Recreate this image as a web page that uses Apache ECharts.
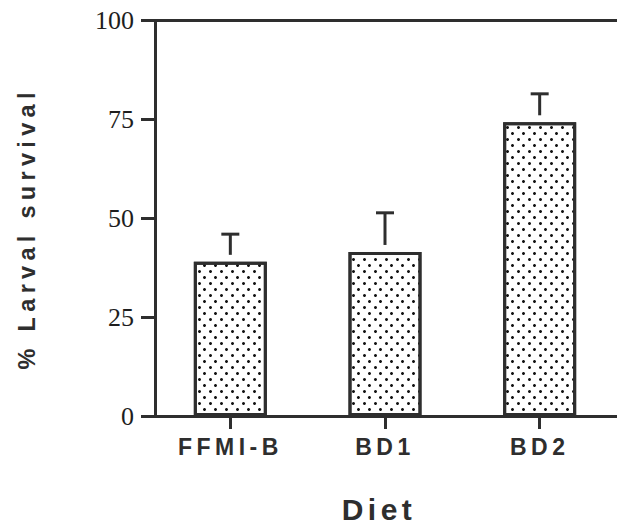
<!DOCTYPE html>
<html>
<head>
<meta charset="utf-8">
<script src="https://cdn.jsdelivr.net/npm/echarts@6/dist/echarts.min.js"></script>
<style>
  html, body { margin: 0; padding: 0; background: #fff; }
  #chart { width: 617px; height: 524px; }
  #chart svg text[style*="bold"] { letter-spacing: 4.5px; }
  #chart svg text[style*="23.5px"] { letter-spacing: 5.3px; }
</style>
</head>
<body>
<div id="chart"></div>
<script>
// ---- data ----
const categories = ['FFMI-B', 'BD1', 'BD2'];
const meanSurvival = [39.0, 41.5, 74.3];      // % larval survival (bar height)
const errorUpper = [46.0, 51.4, 81.5];        // top of error bar
const yTicks = [0, 25, 50, 75, 100];
const xTitle = 'Diet';
const yTitle = '% Larval survival';

const ink = '#2e2e2e';
const chart = echarts.init(document.getElementById('chart'), null, { renderer: 'svg' });

const errData = categories.map((c, i) => [i, meanSurvival[i], errorUpper[i]]);

chart.setOption({
  backgroundColor: '#ffffff',
  animation: false,
  title: {
    text: xTitle,
    left: 374,
    top: 489,
    textAlign: 'center',
    textStyle: { fontFamily: 'Liberation Sans', fontWeight: 'bold', fontSize: 30, color: ink }
  },
  grid: { left: 153, right: -8.5, top: 20.7, bottom: 108, containLabel: false },
  xAxis: [{
    type: 'category',
    data: categories,
    position: 'bottom',
    axisLine: { show: true, lineStyle: { color: ink, width: 3 } },
    axisTick: { show: true, alignWithLabel: true, length: 13, lineStyle: { color: ink, width: 3 } },
    axisLabel: { margin: 19, fontFamily: 'Liberation Sans', fontWeight: 'bold', fontSize: 23, color: ink },
    splitLine: { show: false }
  }, {
    type: 'category',
    data: categories,
    position: 'top',
    axisLine: { show: true, lineStyle: { color: ink, width: 3 } },
    axisTick: { show: false },
    axisLabel: { show: false },
    splitLine: { show: false }
  }],
  yAxis: {
    type: 'value',
    min: yTicks[0],
    max: yTicks[yTicks.length - 1],
    interval: yTicks[1] - yTicks[0],
    offset: -2,
    name: yTitle,
    nameLocation: 'middle',
    nameRotate: 90,
    nameGap: 116,
    nameTextStyle: { fontFamily: 'Liberation Sans', fontWeight: 'bold', fontSize: 23.5, color: ink, padding: [0, 20, 0, 0] },
    axisLine: { show: true, lineStyle: { color: ink, width: 3 } },
    axisTick: { show: true, length: 14, lineStyle: { color: ink, width: 3 } },
    axisLabel: { margin: 21, fontFamily: 'Liberation Serif', fontSize: 26, color: '#1e1e1e' },
    splitLine: { show: false }
  },
  series: [{
    type: 'bar',
    data: meanSurvival,
    barWidth: 73,
    itemStyle: {
      color: '#ffffff',
      borderColor: ink,
      borderWidth: 3,
      decal: {
        symbol: 'circle',
        symbolSize: 1,
        color: '#111111',
        dashArrayX: [[2.5, 7.5], [0, 5, 2.5, 2.5]],
        dashArrayY: [2.5, 3],
        rotation: 0
      }
    },
    z: 2
  }, {
    type: 'custom',
    data: errData,
    z: 3,
    renderItem: function (params, api) {
      const i = api.value(0);
      const base = api.coord([i, api.value(1)]);
      const top = api.coord([i, api.value(2)]);
      const gap = 7, half = 9;
      return {
        type: 'group',
        children: [
          { type: 'line', shape: { x1: top[0], y1: base[1] - gap, x2: top[0], y2: top[1] },
            style: { stroke: ink, lineWidth: 3 } },
          { type: 'line', shape: { x1: top[0] - half, y1: top[1], x2: top[0] + half, y2: top[1] },
            style: { stroke: ink, lineWidth: 3 } }
        ]
      };
    }
  }]
});
</script>
</body>
</html>
